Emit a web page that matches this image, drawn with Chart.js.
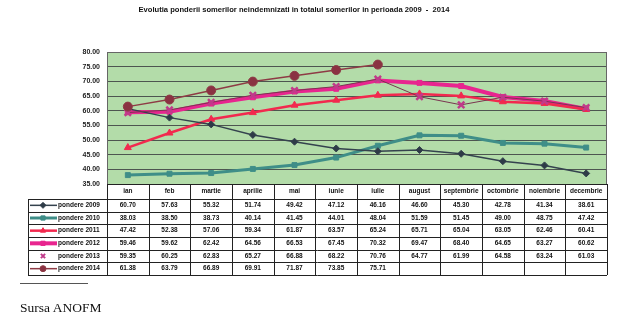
<!DOCTYPE html>
<html>
<head>
<meta charset="utf-8">
<script src="https://cdn.jsdelivr.net/npm/chart.js@4"></script>
<style>
  body { margin: 0; background: #fff; }
  #wrap { position: relative; width: 620px; height: 333px; }
  #rule { position: absolute; left: 20px; top: 283px; width: 68px; height: 0; border-top: 1px solid #555; }
  #src { position: absolute; left: 20px; top: 300px; font: 13.5px "Liberation Serif", serif; color: #111; }
</style>
</head>
<body>
<div id="wrap">
  <canvas id="chart"></canvas>
  <div id="rule"></div>
  <div id="src">Sursa ANOFM</div>
</div>
<script>
/* ── data ─────────────────────────────────────────────── */
const MONTHS = ['ian', 'feb', 'martie', 'aprilie', 'mai', 'iunie', 'iulie',
                'august', 'septembrie', 'octombrie', 'noiembrie', 'decembrie'];
const Y_TICKS = [35, 40, 45, 50, 55, 60, 65, 70, 75, 80];

const P2009 = [60.70, 57.63, 55.32, 51.74, 49.42, 47.12, 46.16, 46.60, 45.30, 42.78, 41.34, 38.61];
const P2010 = [38.03, 38.50, 38.73, 40.14, 41.45, 44.01, 48.04, 51.59, 51.45, 49.00, 48.75, 47.42];
const P2011 = [47.42, 52.38, 57.06, 59.34, 61.87, 63.57, 65.24, 65.71, 65.04, 63.05, 62.46, 60.41];
const P2012 = [59.46, 59.62, 62.42, 64.56, 66.53, 67.45, 70.32, 69.47, 68.40, 64.65, 63.27, 60.62];
const P2013 = [59.35, 60.25, 62.83, 65.27, 66.88, 68.22, 70.76, 64.77, 61.99, 64.58, 63.24, 61.03];
const P2014 = [61.38, 63.79, 66.89, 69.91, 71.87, 73.85, 75.71, null, null, null, null, null];

const TITLE = 'Evolutia ponderii somerilor neindemnizati in totalul somerilor in perioada 2009  -  2014';

/* ── series styles ────────────────────────────────────── */
const SERIES = [
    { label: 'pondere 2009', data: P2009, color: '#34424e', fill: '#2e3b47', width: 1.5, style: 'rectRot',  radius: 3.5, order: 3 },
    { label: 'pondere 2010', data: P2010, color: '#3f8e88', fill: '#3f8e88', width: 3,   style: 'rect',     radius: 3.5, order: 4 },
    { label: 'pondere 2011', data: P2011, color: '#f2294e', fill: '#f2294e', width: 2.5, style: 'triangle', radius: 4,   order: 5 },
    { label: 'pondere 2012', data: P2012, color: '#e8258f', fill: '#e8258f', width: 4,   style: 'rect',     radius: 3.5, order: 6 },
    { label: 'pondere 2013', data: P2013, color: '#7a3550', fill: '#c03a8a', width: 1,   style: 'crossRot', radius: 4.5, order: 2, noLegendLine: true },
    { label: 'pondere 2014', data: P2014, color: '#8e3b45', fill: '#8a3242', width: 1.5, style: 'circle',   radius: 4.5, order: 1 },
];

const FONT = '"Liberation Sans", Arial, sans-serif';

/* ── plot background, title, data table ───────────────── */
const tablePlugin = {
    id: 'tablePlugin',
    beforeDraw(chart) {
        const { ctx, chartArea: a } = chart;
        ctx.save();
        ctx.fillStyle = '#b3dca9';
        ctx.fillRect(a.left, a.top, a.right - a.left, a.bottom - a.top);
        ctx.restore();
    },
    afterDraw(chart) {
        const { ctx, chartArea: a } = chart;
        const x = chart.scales.x;
        ctx.save();

        /* plot frame */
        ctx.strokeStyle = '#666';
        ctx.lineWidth = 1;
        ctx.strokeRect(a.left + 0.5, a.top + 0.5, a.right - a.left - 1, a.bottom - a.top);

        /* title */
        ctx.fillStyle = '#111';
        ctx.font = 'bold 7.6px ' + FONT;
        ctx.textAlign = 'center';
        ctx.textBaseline = 'middle';
        ctx.fillText(TITLE, 294, 10);

        /* table geometry */
        const colW = (a.right - a.left) / MONTHS.length;
        const legLeft = 28;
        const headTop = a.bottom, headBot = 199;
        const rowH = (275 - headBot) / SERIES.length;
        const tBot = headBot + rowH * SERIES.length;

        ctx.strokeStyle = '#222';
        ctx.lineWidth = 1;
        ctx.beginPath();
        /* header row (months only) */
        ctx.moveTo(a.left, headTop + 0.5); ctx.lineTo(a.right, headTop + 0.5);
        /* row lines */
        for (let r = 0; r <= SERIES.length; r++) {
            const y = Math.round(headBot + r * rowH) + 0.5;
            ctx.moveTo(legLeft, y); ctx.lineTo(a.right, y);
        }
        /* column lines */
        for (let c = 0; c <= MONTHS.length; c++) {
            const xx = Math.round(a.left + c * colW) + 0.5;
            ctx.moveTo(xx, headTop); ctx.lineTo(xx, tBot);
        }
        ctx.moveTo(legLeft + 0.5, headBot); ctx.lineTo(legLeft + 0.5, tBot);
        ctx.stroke();

        /* month labels */
        ctx.font = 'bold 6.5px ' + FONT;
        ctx.fillStyle = '#111';
        MONTHS.forEach((m, i) => {
            ctx.fillText(m, x.getPixelForValue(i), (headTop + headBot) / 2);
        });

        /* rows */
        SERIES.forEach((s, r) => {
            const cy = headBot + (r + 0.5) * rowH;
            /* legend sample */
            if (!s.noLegendLine) {
                ctx.strokeStyle = s.color;
                ctx.lineWidth = Math.max(1.5, s.width);
                ctx.beginPath();
                ctx.moveTo(30, cy); ctx.lineTo(57, cy);
                ctx.stroke();
            }
            ctx.fillStyle = s.fill;
            ctx.strokeStyle = s.style === 'crossRot' ? s.fill : s.color;
            ctx.lineWidth = s.style === 'crossRot' ? 2 : 1;
            Chart.helpers.drawPoint(ctx, { pointStyle: s.style, radius: 3, rotation: 0, borderWidth: ctx.lineWidth }, 43, cy);

            ctx.fillStyle = '#111';
            ctx.font = 'bold 6.5px ' + FONT;
            ctx.textAlign = 'left';
            ctx.fillText(s.label, 58, cy);
            ctx.textAlign = 'center';
            s.data.forEach((v, i) => {
                if (v == null) return;
                ctx.fillText(v.toFixed(2), x.getPixelForValue(i), cy);
            });
        });
        ctx.restore();
    },
};

new Chart(document.getElementById('chart'), {
    type: 'line',
    data: {
        labels: MONTHS,
        datasets: SERIES.map(s => ({
            label: s.label,
            data: s.data,
            borderColor: s.color,
            borderWidth: s.width,
            backgroundColor: s.fill,
            pointStyle: s.style,
            pointRadius: s.radius,
            pointBackgroundColor: s.fill,
            pointBorderColor: s.style === 'crossRot' ? s.fill : s.color,
            pointBorderWidth: s.style === 'crossRot' ? 2.5 : 1,
            tension: 0,
            order: s.order,
            spanGaps: false,
        })),
    },
    options: {
        responsive: true,
        maintainAspectRatio: false,
        animation: false,
        layout: { padding: { top: 52, right: 13, bottom: 333 - 184, left: 0 } },
        plugins: {
            legend: { display: false },
            tooltip: { enabled: false },
            title: { display: false },
        },
        scales: {
            x: { display: false, offset: true },
            y: {
                min: Y_TICKS[0],
                max: Y_TICKS[Y_TICKS.length - 1],
                afterBuildTicks: s => { s.ticks = Y_TICKS.map(v => ({ value: v })); },
                afterFit: s => { s.width = 107; },
                border: { display: false },
                grid: { color: '#4d5550', lineWidth: 1, drawTicks: false },
                ticks: {
                    padding: 7,
                    color: '#222',
                    font: { family: FONT, size: 7, weight: 'bold' },
                    callback: v => v.toFixed(2),
                },
            },
        },
    },
    plugins: [tablePlugin],
});
</script>
</body>
</html>
